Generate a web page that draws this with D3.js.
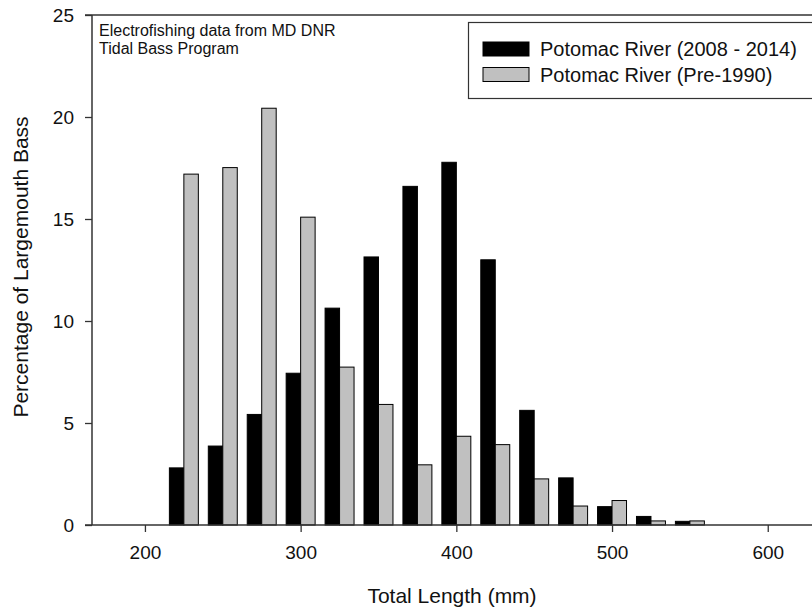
<!DOCTYPE html>
<html>
<head>
<meta charset="utf-8">
<script src="https://cdn.jsdelivr.net/npm/d3@7"></script>
<style>
  body { margin: 0; background: #fff; }
  svg { font-family: "Liberation Sans", Arial, sans-serif; display: block; }
</style>
</head>
<body>
<div id="chart"></div>
<script>
// centres de classe (mm)
const binCentres = [225, 250, 275, 300, 325, 350, 375, 400, 425, 450, 475, 500, 525, 550];
// Potomac River (2008 - 2014)
const recent = [2.8, 3.87, 5.42, 7.44, 10.63, 13.14, 16.6, 17.78, 13.0, 5.62, 2.31, 0.9, 0.42, 0.18];
// Potomac River (Pre-1990)
const pre1990 = [17.2, 17.52, 20.43, 15.09, 7.74, 5.91, 2.95, 4.35, 3.94, 2.26, 0.93, 1.2, 0.2, 0.2];
const seriesNames = ["Potomac River (2008 - 2014)", "Potomac River (Pre-1990)"];
const xTicks = [200, 300, 400, 500, 600];
const yTicks = [0, 5, 10, 15, 20, 25];

const W = 812, H = 613;
const barW = 9.3;

const svg = d3.select("#chart").append("svg")
    .attr("width", W)
    .attr("height", H);

const x = d3.scaleLinear().domain([166, 640]).range([92, 92 + 474 * 1.557]);
const y = d3.scaleLinear().domain([0, 25]).range([525, 15]);

// barres
const g = svg.append("g");
g.selectAll(".recent")
    .data(binCentres.map((c, i) => ({c: c, v: recent[i]})))
    .enter().append("rect")
        .attr("class", "recent")
        .attr("x", d => x(d.c - barW))
        .attr("y", d => y(d.v))
        .attr("width", d => x(d.c) - x(d.c - barW))
        .attr("height", d => y(0) - y(d.v))
        .attr("fill", "#000")
        .attr("stroke", "#000")
        .attr("stroke-width", 1);

g.selectAll(".pre")
    .data(binCentres.map((c, i) => ({c: c, v: pre1990[i]})))
    .enter().append("rect")
        .attr("class", "pre")
        .attr("x", d => x(d.c))
        .attr("y", d => y(d.v))
        .attr("width", d => x(d.c + barW) - x(d.c))
        .attr("height", d => y(0) - y(d.v))
        .attr("fill", "#c0c0c0")
        .attr("stroke", "#000")
        .attr("stroke-width", 1);

// eixos
const axY = svg.append("g")
    .attr("transform", `translate(${x.range()[0]},0)`)
    .call(d3.axisLeft(y).tickValues(yTicks).tickSize(7).tickPadding(11));
const axX = svg.append("g")
    .attr("transform", `translate(0,${y(0)})`)
    .call(d3.axisBottom(x).tickValues(xTicks).tickSize(7).tickPadding(14));
[axY, axX].forEach(a => {
    a.select(".domain").remove();
    a.selectAll("line").attr("stroke", "#333").attr("stroke-width", 1.3);
    a.selectAll("text").style("font-size", "19px").attr("fill", "#111")
        .style("font-family", "'Liberation Sans', Arial, sans-serif");
});

// marc
svg.append("line").attr("x1", 85).attr("x2", W).attr("y1", y(0)).attr("y2", y(0))
    .attr("stroke", "#333").attr("stroke-width", 1.5);
svg.append("line").attr("x1", 85).attr("x2", W).attr("y1", y(25)).attr("y2", y(25))
    .attr("stroke", "#333").attr("stroke-width", 1.5);
svg.append("line").attr("x1", 92).attr("x2", 92).attr("y1", y(25)).attr("y2", y(0))
    .attr("stroke", "#333").attr("stroke-width", 1.5);

// titols
svg.append("text")
    .attr("x", 452).attr("y", 603)
    .attr("text-anchor", "middle")
    .style("font-size", "21px")
    .attr("fill", "#111")
    .text("Total Length (mm)");
svg.append("text")
    .attr("transform", "translate(28,267) rotate(-90)")
    .attr("text-anchor", "middle")
    .style("font-size", "21px")
    .attr("fill", "#111")
    .text("Percentage of Largemouth Bass");

// nota
svg.append("text").attr("x", 99).attr("y", 36).style("font-size", "16px")
    .attr("fill", "#111")
    .text("Electrofishing data from MD DNR");
svg.append("text").attr("x", 99).attr("y", 54).style("font-size", "16px")
    .attr("fill", "#111")
    .text("Tidal Bass Program");

// llegenda
const leg = svg.append("g");
leg.append("rect").attr("x", 468.5).attr("y", 22.5).attr("width", 360).attr("height", 76)
    .attr("fill", "#fff").attr("stroke", "#333").attr("stroke-width", 1.2);
const legFill = ["#000", "#c0c0c0"];
seriesNames.forEach((n, i) => {
    leg.append("rect").attr("x", 483).attr("y", 42 + i * 25.5).attr("width", 46).attr("height", 14)
        .attr("fill", legFill[i]).attr("stroke", "#000").attr("stroke-width", 1);
    leg.append("text").attr("x", 540).attr("y", 56 + i * 25.5).style("font-size", "20px")
        .attr("fill", "#111")
        .text(n);
});
</script>
</body>
</html>
